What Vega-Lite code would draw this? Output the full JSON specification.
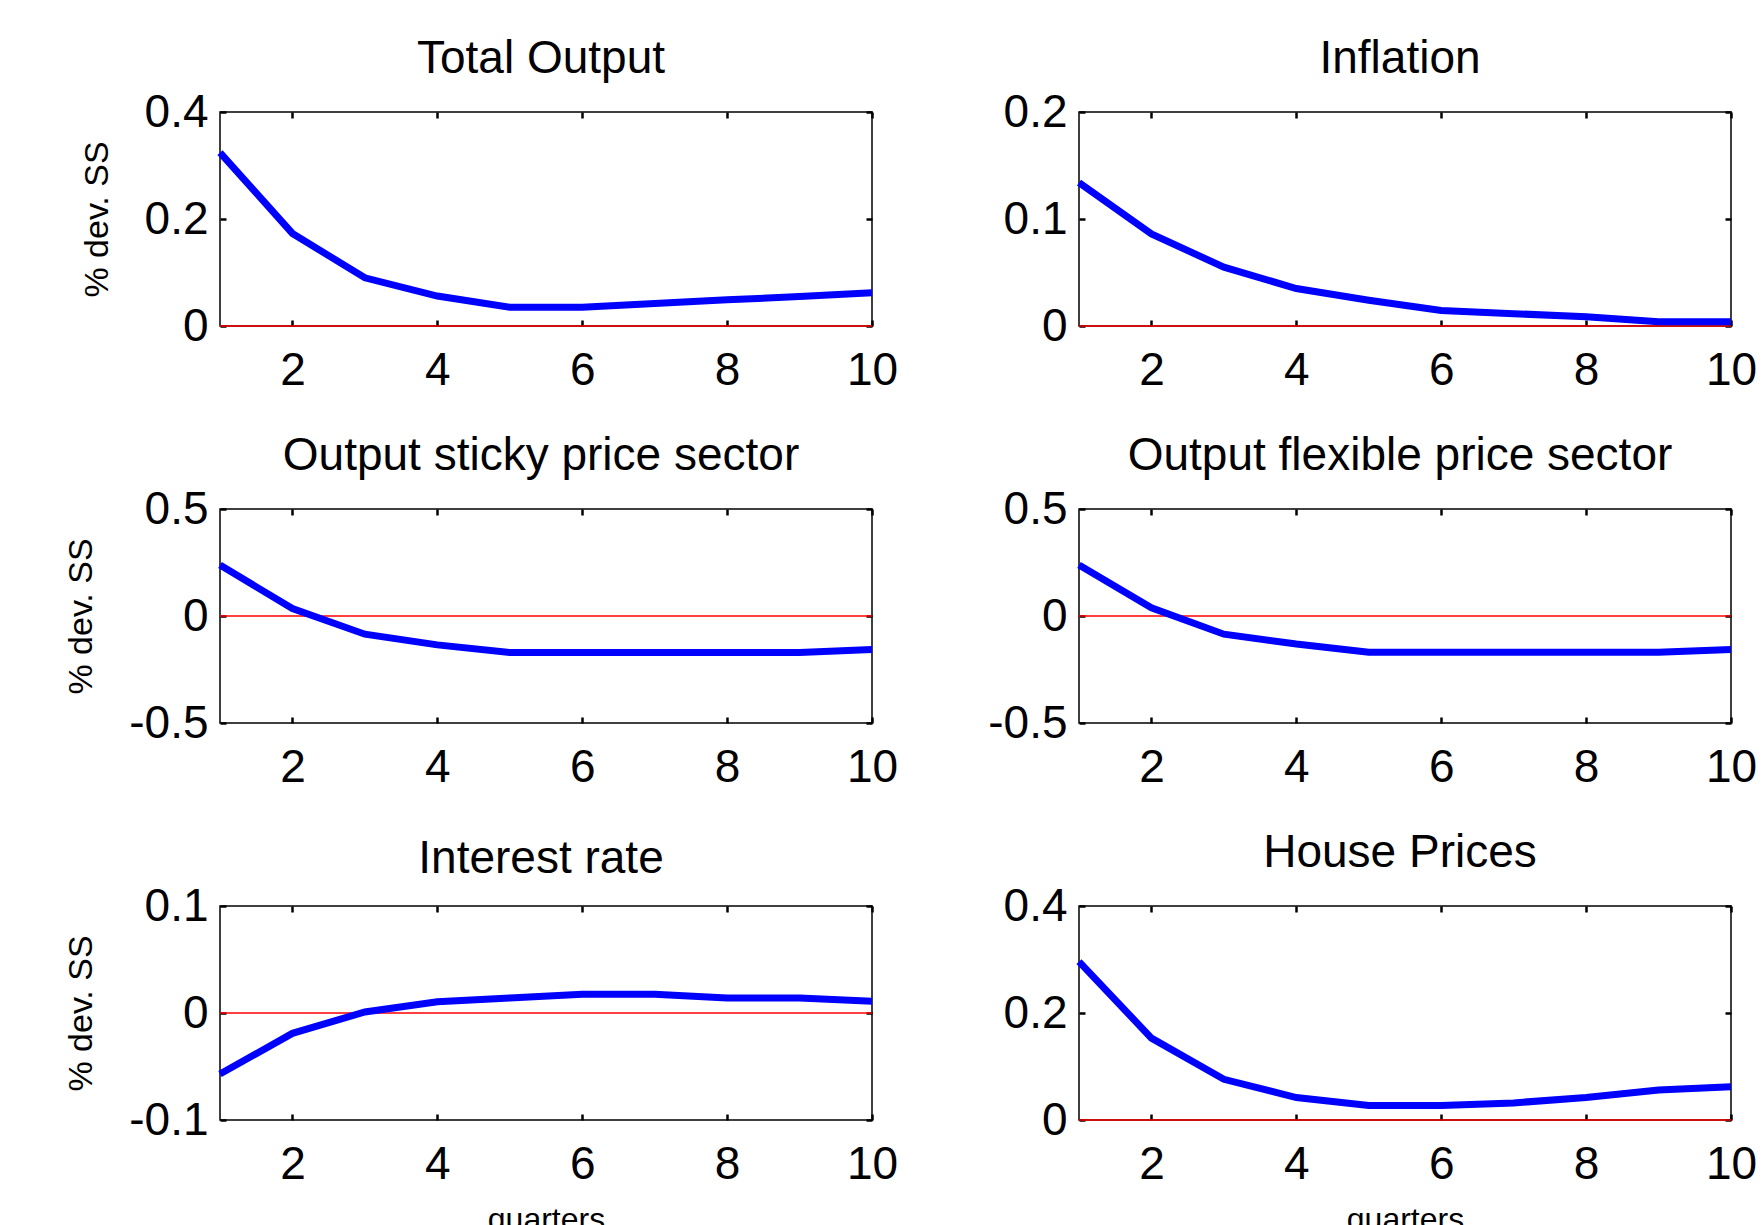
{
  "$schema": "https://vega.github.io/schema/vega-lite/v6.json",
  "background": "white",
  "padding": {"left": 63, "top": 35, "right": 5, "bottom": 5},
  "config": {
    "font": "Liberation Sans",
    "view": {"stroke": "black", "strokeWidth": 1.5},
    "axis": {
      "domain": false, "grid": false,
      "tickColor": "black", "tickSize": -6, "tickWidth": 2.5,
      "labelFontSize": 46, "labelColor": "black", "labelFont": "Liberation Sans",
      "labelFlush": false, "labelOverlap": false,
      "titleFontSize": 34, "titleFontWeight": "normal", "titleColor": "black", "titleFont": "Liberation Sans"
    },
    "axisBottom": {"labelPadding": 28, "titlePadding": 17, "titleFontSize": 32},
    "axisLeft": {"labelPadding": 18, "titlePadding": 30},
    "title": {"fontSize": 46, "fontWeight": "normal", "color": "black", "font": "Liberation Sans", "baseline": "alphabetic", "frame": "group", "anchor": "middle", "offset": 6, "dx": -5}
  },
  "datasets": {
    "irf": [
      {"p": "Total Output", "q": 1, "v": 0.324}, {"p": "Total Output", "q": 2, "v": 0.173}, {"p": "Total Output", "q": 3, "v": 0.090}, {"p": "Total Output", "q": 4, "v": 0.056}, {"p": "Total Output", "q": 5, "v": 0.035}, {"p": "Total Output", "q": 6, "v": 0.035}, {"p": "Total Output", "q": 7, "v": 0.042}, {"p": "Total Output", "q": 8, "v": 0.049}, {"p": "Total Output", "q": 9, "v": 0.055}, {"p": "Total Output", "q": 10, "v": 0.062},
      {"p": "Inflation", "q": 1, "v": 0.134}, {"p": "Inflation", "q": 2, "v": 0.086}, {"p": "Inflation", "q": 3, "v": 0.055}, {"p": "Inflation", "q": 4, "v": 0.035}, {"p": "Inflation", "q": 5, "v": 0.024}, {"p": "Inflation", "q": 6, "v": 0.0145}, {"p": "Inflation", "q": 7, "v": 0.0115}, {"p": "Inflation", "q": 8, "v": 0.0087}, {"p": "Inflation", "q": 9, "v": 0.004}, {"p": "Inflation", "q": 10, "v": 0.004},
      {"p": "Output sticky price sector", "q": 1, "v": 0.238}, {"p": "Output sticky price sector", "q": 2, "v": 0.035}, {"p": "Output sticky price sector", "q": 3, "v": -0.085}, {"p": "Output sticky price sector", "q": 4, "v": -0.135}, {"p": "Output sticky price sector", "q": 5, "v": -0.171}, {"p": "Output sticky price sector", "q": 6, "v": -0.171}, {"p": "Output sticky price sector", "q": 7, "v": -0.171}, {"p": "Output sticky price sector", "q": 8, "v": -0.171}, {"p": "Output sticky price sector", "q": 9, "v": -0.171}, {"p": "Output sticky price sector", "q": 10, "v": -0.157},
      {"p": "Output flexible price sector", "q": 1, "v": 0.238}, {"p": "Output flexible price sector", "q": 2, "v": 0.038}, {"p": "Output flexible price sector", "q": 3, "v": -0.085}, {"p": "Output flexible price sector", "q": 4, "v": -0.131}, {"p": "Output flexible price sector", "q": 5, "v": -0.169}, {"p": "Output flexible price sector", "q": 6, "v": -0.169}, {"p": "Output flexible price sector", "q": 7, "v": -0.169}, {"p": "Output flexible price sector", "q": 8, "v": -0.169}, {"p": "Output flexible price sector", "q": 9, "v": -0.169}, {"p": "Output flexible price sector", "q": 10, "v": -0.157},
      {"p": "Interest rate", "q": 1, "v": -0.057}, {"p": "Interest rate", "q": 2, "v": -0.019}, {"p": "Interest rate", "q": 3, "v": 0.001}, {"p": "Interest rate", "q": 4, "v": 0.0105}, {"p": "Interest rate", "q": 5, "v": 0.014}, {"p": "Interest rate", "q": 6, "v": 0.0175}, {"p": "Interest rate", "q": 7, "v": 0.0175}, {"p": "Interest rate", "q": 8, "v": 0.014}, {"p": "Interest rate", "q": 9, "v": 0.014}, {"p": "Interest rate", "q": 10, "v": 0.011},
      {"p": "House Prices", "q": 1, "v": 0.296}, {"p": "House Prices", "q": 2, "v": 0.153}, {"p": "House Prices", "q": 3, "v": 0.076}, {"p": "House Prices", "q": 4, "v": 0.042}, {"p": "House Prices", "q": 5, "v": 0.027}, {"p": "House Prices", "q": 6, "v": 0.027}, {"p": "House Prices", "q": 7, "v": 0.032}, {"p": "House Prices", "q": 8, "v": 0.042}, {"p": "House Prices", "q": 9, "v": 0.056}, {"p": "House Prices", "q": 10, "v": 0.062}
    ],
    "zero": [{"z": 0}]
  },
  "columns": 2,
  "bounds": "flush",
  "spacing": {"row": 183, "column": 207},
  "concat": [
    {
      "width": 652, "height": 214,
      "title": {"text": "Total Output"},
      "resolve": {"axis": {"x": "independent", "y": "independent"}},
      "layer": [
        {"data": {"name": "zero"}, "mark": {"type": "rule", "color": "#ff0000", "strokeWidth": 1.3},
         "encoding": {"y": {"field": "z", "type": "quantitative", "axis": null}}},
        {"data": {"name": "irf"}, "transform": [{"filter": "datum.p == 'Total Output'"}],
         "mark": {"type": "line", "color": "#0000ff", "strokeWidth": 7},
         "encoding": {
           "x": {"field": "q", "type": "quantitative", "scale": {"domain": [1, 10], "nice": false, "zero": false}, "axis": {"orient": "bottom", "values": [2, 4, 6, 8, 10], "title": null}},
           "y": {"field": "v", "type": "quantitative", "scale": {"domain": [0, 0.4], "nice": false, "zero": false}, "axis": {"orient": "left", "values": [0, 0.2, 0.4], "labelExpr": "datum.value + ''", "title": "% dev. SS"}}}},
        {"data": {"name": "irf"}, "transform": [{"filter": "datum.p == 'Total Output'"}],
         "mark": {"type": "line", "opacity": 0},
         "encoding": {
           "x": {"field": "q", "type": "quantitative", "axis": {"orient": "top", "values": [2, 4, 6, 8, 10], "labels": false, "title": null}},
           "y": {"field": "v", "type": "quantitative", "axis": {"orient": "right", "values": [0, 0.2, 0.4], "labels": false, "title": null}}}}
      ]
    },
    {
      "width": 652, "height": 214,
      "title": {"text": "Inflation"},
      "resolve": {"axis": {"x": "independent", "y": "independent"}},
      "layer": [
        {"data": {"name": "zero"}, "mark": {"type": "rule", "color": "#ff0000", "strokeWidth": 1.3},
         "encoding": {"y": {"field": "z", "type": "quantitative", "axis": null}}},
        {"data": {"name": "irf"}, "transform": [{"filter": "datum.p == 'Inflation'"}],
         "mark": {"type": "line", "color": "#0000ff", "strokeWidth": 7},
         "encoding": {
           "x": {"field": "q", "type": "quantitative", "scale": {"domain": [1, 10], "nice": false, "zero": false}, "axis": {"orient": "bottom", "values": [2, 4, 6, 8, 10], "title": null}},
           "y": {"field": "v", "type": "quantitative", "scale": {"domain": [0, 0.2], "nice": false, "zero": false}, "axis": {"orient": "left", "values": [0, 0.1, 0.2], "labelExpr": "datum.value + ''", "title": null}}}},
        {"data": {"name": "irf"}, "transform": [{"filter": "datum.p == 'Inflation'"}],
         "mark": {"type": "line", "opacity": 0},
         "encoding": {
           "x": {"field": "q", "type": "quantitative", "axis": {"orient": "top", "values": [2, 4, 6, 8, 10], "labels": false, "title": null}},
           "y": {"field": "v", "type": "quantitative", "axis": {"orient": "right", "values": [0, 0.1, 0.2], "labels": false, "title": null}}}}
      ]
    },
    {
      "width": 652, "height": 214,
      "title": {"text": "Output sticky price sector"},
      "resolve": {"axis": {"x": "independent", "y": "independent"}},
      "layer": [
        {"data": {"name": "zero"}, "mark": {"type": "rule", "color": "#ff0000", "strokeWidth": 1.3},
         "encoding": {"y": {"field": "z", "type": "quantitative", "axis": null}}},
        {"data": {"name": "irf"}, "transform": [{"filter": "datum.p == 'Output sticky price sector'"}],
         "mark": {"type": "line", "color": "#0000ff", "strokeWidth": 7},
         "encoding": {
           "x": {"field": "q", "type": "quantitative", "scale": {"domain": [1, 10], "nice": false, "zero": false}, "axis": {"orient": "bottom", "values": [2, 4, 6, 8, 10], "title": null}},
           "y": {"field": "v", "type": "quantitative", "scale": {"domain": [-0.5, 0.5], "nice": false, "zero": false}, "axis": {"orient": "left", "values": [-0.5, 0, 0.5], "labelExpr": "datum.value + ''", "title": "% dev. SS"}}}},
        {"data": {"name": "irf"}, "transform": [{"filter": "datum.p == 'Output sticky price sector'"}],
         "mark": {"type": "line", "opacity": 0},
         "encoding": {
           "x": {"field": "q", "type": "quantitative", "axis": {"orient": "top", "values": [2, 4, 6, 8, 10], "labels": false, "title": null}},
           "y": {"field": "v", "type": "quantitative", "axis": {"orient": "right", "values": [-0.5, 0, 0.5], "labels": false, "title": null}}}}
      ]
    },
    {
      "width": 652, "height": 214,
      "title": {"text": "Output flexible price sector"},
      "resolve": {"axis": {"x": "independent", "y": "independent"}},
      "layer": [
        {"data": {"name": "zero"}, "mark": {"type": "rule", "color": "#ff0000", "strokeWidth": 1.3},
         "encoding": {"y": {"field": "z", "type": "quantitative", "axis": null}}},
        {"data": {"name": "irf"}, "transform": [{"filter": "datum.p == 'Output flexible price sector'"}],
         "mark": {"type": "line", "color": "#0000ff", "strokeWidth": 7},
         "encoding": {
           "x": {"field": "q", "type": "quantitative", "scale": {"domain": [1, 10], "nice": false, "zero": false}, "axis": {"orient": "bottom", "values": [2, 4, 6, 8, 10], "title": null}},
           "y": {"field": "v", "type": "quantitative", "scale": {"domain": [-0.5, 0.5], "nice": false, "zero": false}, "axis": {"orient": "left", "values": [-0.5, 0, 0.5], "labelExpr": "datum.value + ''", "title": null}}}},
        {"data": {"name": "irf"}, "transform": [{"filter": "datum.p == 'Output flexible price sector'"}],
         "mark": {"type": "line", "opacity": 0},
         "encoding": {
           "x": {"field": "q", "type": "quantitative", "axis": {"orient": "top", "values": [2, 4, 6, 8, 10], "labels": false, "title": null}},
           "y": {"field": "v", "type": "quantitative", "axis": {"orient": "right", "values": [-0.5, 0, 0.5], "labels": false, "title": null}}}}
      ]
    },
    {
      "width": 652, "height": 214,
      "title": {"text": "Interest rate", "offset": 0},
      "resolve": {"axis": {"x": "independent", "y": "independent"}},
      "layer": [
        {"data": {"name": "zero"}, "mark": {"type": "rule", "color": "#ff0000", "strokeWidth": 1.3},
         "encoding": {"y": {"field": "z", "type": "quantitative", "axis": null}}},
        {"data": {"name": "irf"}, "transform": [{"filter": "datum.p == 'Interest rate'"}],
         "mark": {"type": "line", "color": "#0000ff", "strokeWidth": 7},
         "encoding": {
           "x": {"field": "q", "type": "quantitative", "scale": {"domain": [1, 10], "nice": false, "zero": false}, "axis": {"orient": "bottom", "values": [2, 4, 6, 8, 10], "title": "quarters"}},
           "y": {"field": "v", "type": "quantitative", "scale": {"domain": [-0.1, 0.1], "nice": false, "zero": false}, "axis": {"orient": "left", "values": [-0.1, 0, 0.1], "labelExpr": "datum.value + ''", "title": "% dev. SS"}}}},
        {"data": {"name": "irf"}, "transform": [{"filter": "datum.p == 'Interest rate'"}],
         "mark": {"type": "line", "opacity": 0},
         "encoding": {
           "x": {"field": "q", "type": "quantitative", "axis": {"orient": "top", "values": [2, 4, 6, 8, 10], "labels": false, "title": null}},
           "y": {"field": "v", "type": "quantitative", "axis": {"orient": "right", "values": [-0.1, 0, 0.1], "labels": false, "title": null}}}}
      ]
    },
    {
      "width": 652, "height": 214,
      "title": {"text": "House Prices"},
      "resolve": {"axis": {"x": "independent", "y": "independent"}},
      "layer": [
        {"data": {"name": "zero"}, "mark": {"type": "rule", "color": "#ff0000", "strokeWidth": 1.3},
         "encoding": {"y": {"field": "z", "type": "quantitative", "axis": null}}},
        {"data": {"name": "irf"}, "transform": [{"filter": "datum.p == 'House Prices'"}],
         "mark": {"type": "line", "color": "#0000ff", "strokeWidth": 7},
         "encoding": {
           "x": {"field": "q", "type": "quantitative", "scale": {"domain": [1, 10], "nice": false, "zero": false}, "axis": {"orient": "bottom", "values": [2, 4, 6, 8, 10], "title": "quarters"}},
           "y": {"field": "v", "type": "quantitative", "scale": {"domain": [0, 0.4], "nice": false, "zero": false}, "axis": {"orient": "left", "values": [0, 0.2, 0.4], "labelExpr": "datum.value + ''", "title": null}}}},
        {"data": {"name": "irf"}, "transform": [{"filter": "datum.p == 'House Prices'"}],
         "mark": {"type": "line", "opacity": 0},
         "encoding": {
           "x": {"field": "q", "type": "quantitative", "axis": {"orient": "top", "values": [2, 4, 6, 8, 10], "labels": false, "title": null}},
           "y": {"field": "v", "type": "quantitative", "axis": {"orient": "right", "values": [0, 0.2, 0.4], "labels": false, "title": null}}}}
      ]
    }
  ]
}
